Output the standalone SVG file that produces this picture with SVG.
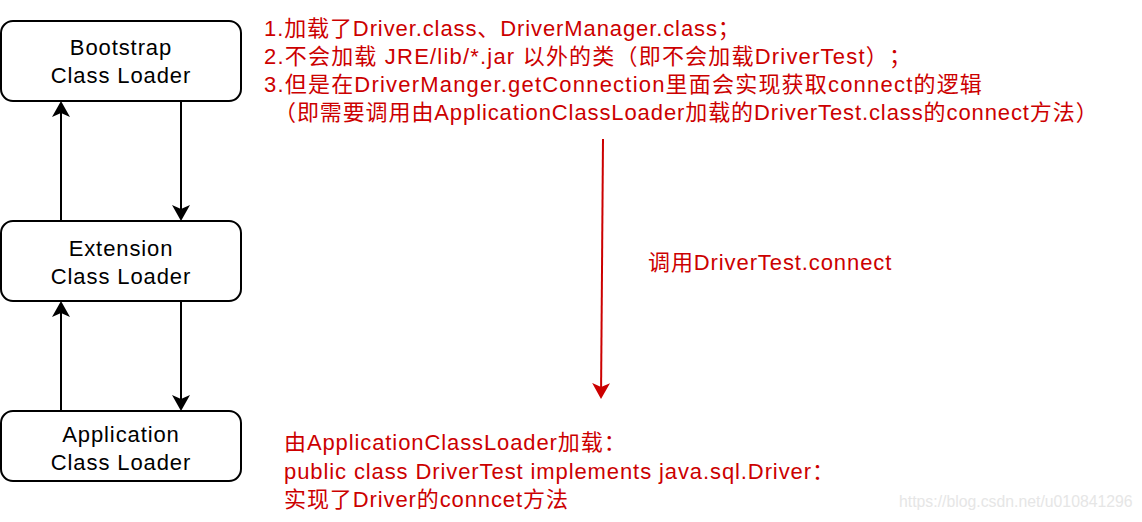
<svg xmlns="http://www.w3.org/2000/svg" width="1142" height="522" viewBox="0 0 1142 522">
<style>
.box{fill:#ffffff;stroke:#000000;stroke-width:2}
.lbl{font-family:"Liberation Sans","Noto Sans CJK SC",sans-serif;font-size:22px;fill:#000000;text-anchor:middle;letter-spacing:0.9px}
.red{font-family:"Liberation Sans","Noto Sans CJK SC",sans-serif;font-size:22px;fill:#cc0000;letter-spacing:0.9px;text-spacing-trim:space-all}
.wide{letter-spacing:1.2px}
.edge{fill:none;stroke:#000000;stroke-width:2}
.redge{fill:none;stroke:#cc0000;stroke-width:2}
.wm{font-family:"Liberation Sans",sans-serif;font-size:15.8px;fill:#e6e6e6}
</style>
<defs>
<marker id="ah" viewBox="0 0 16 18" refX="4" refY="9" markerWidth="16" markerHeight="18" markerUnits="userSpaceOnUse" orient="auto">
<path d="M0,0 L16,9 L0,18 L4,9 Z" fill="#000000"/>
</marker>
<marker id="ahr" viewBox="0 0 16 18" refX="4" refY="9" markerWidth="16" markerHeight="18" markerUnits="userSpaceOnUse" orient="auto">
<path d="M0,0 L16,9 L0,18 L4,9 Z" fill="#cc0000"/>
</marker>
</defs>
<rect width="1142" height="522" fill="#ffffff"/>
<g id="connectors">
<line class="edge" x1="61" y1="221" x2="61" y2="113" marker-end="url(#ah)"/>
<line class="edge" x1="181" y1="101" x2="181" y2="209" marker-end="url(#ah)"/>
<line class="edge" x1="61" y1="411" x2="61" y2="313" marker-end="url(#ah)"/>
<line class="edge" x1="181" y1="301" x2="181" y2="399" marker-end="url(#ah)"/>
<line class="redge" x1="603" y1="139" x2="601.1" y2="387" marker-end="url(#ahr)"/>
<text class="red" x="648" y="270">调用DriverTest.connect</text>
</g>
<g id="bootstrap">
<rect class="box" x="1" y="21" width="240" height="80" rx="12"/>
<text class="lbl" x="121" y="55">Bootstrap</text>
<text class="lbl" x="121" y="83">Class Loader</text>
</g>
<g id="extension">
<rect class="box" x="1" y="221" width="240" height="80" rx="12"/>
<text class="lbl" x="121" y="256">Extension</text>
<text class="lbl" x="121" y="284">Class Loader</text>
</g>
<g id="application">
<rect class="box" x="1" y="411" width="240" height="70" rx="12"/>
<text class="lbl" x="121" y="442">Application</text>
<text class="lbl" x="121" y="470">Class Loader</text>
</g>
<g id="note-top">
<text class="red" x="264" y="36">1.加载了Driver.class、DriverManager.class；</text>
<text class="red wide" x="264" y="64">2.不会加载 JRE/lib/*.jar 以外的类（即不会加载DriverTest）；</text>
<text class="red wide" x="264" y="92">3.但是在DriverManger.getConnection里面会实现获取connect的逻辑</text>
<text class="red" x="274" y="120">（即需要调用由ApplicationClassLoader加载的DriverTest.class的connect方法）</text>
</g>
<g id="note-bottom">
<text class="red" x="284" y="450">由ApplicationClassLoader加载：</text>
<text class="red" x="284" y="479">public class DriverTest implements java.sql.Driver：</text>
<text class="red" x="284" y="507">实现了Driver的conncet方法</text>
</g>
<text class="wm" x="899" y="507">https://blog.csdn.net/u010841296</text>
</svg>
